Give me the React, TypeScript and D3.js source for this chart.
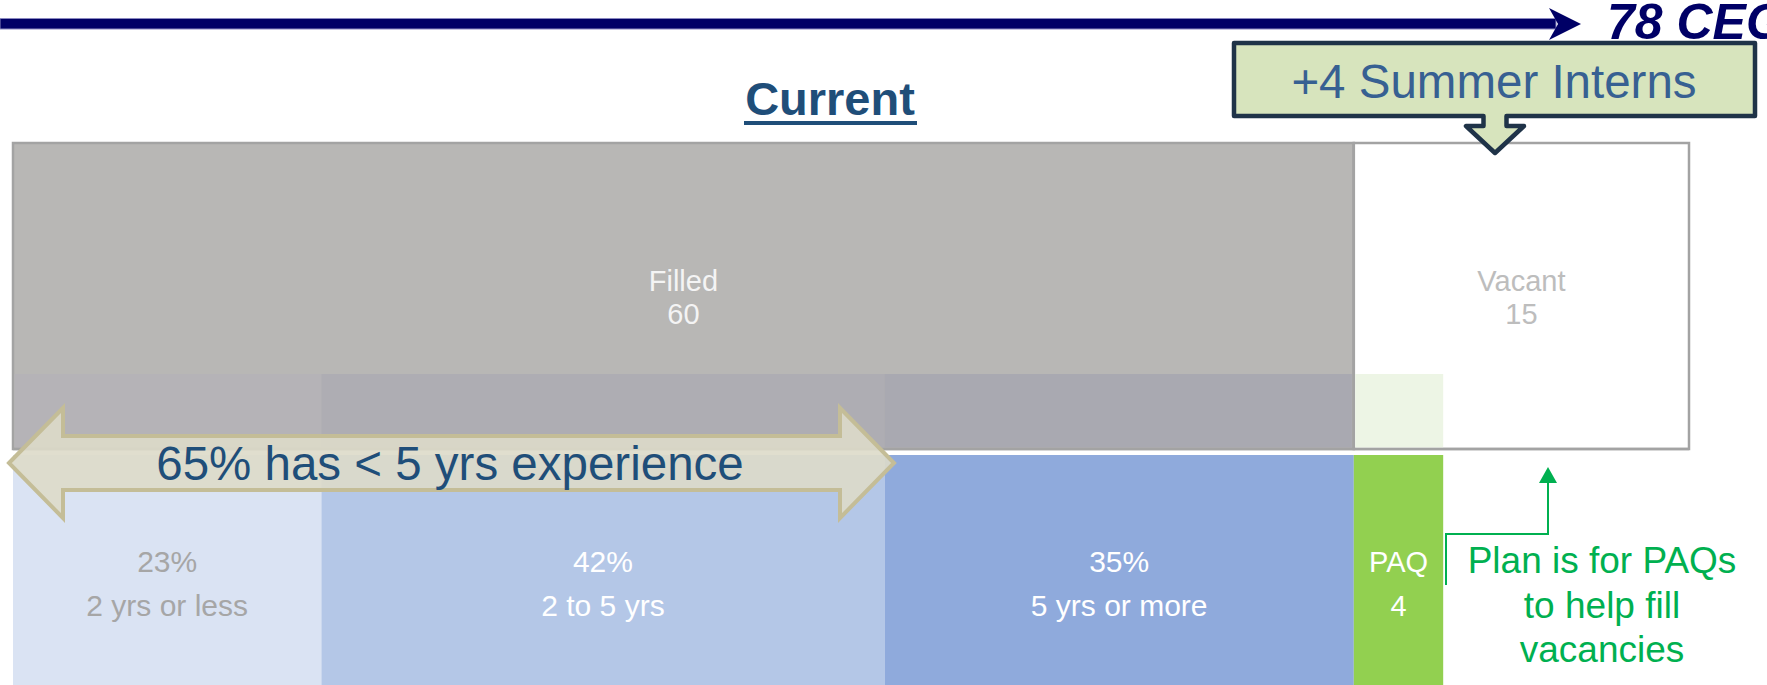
import React, { useEffect } from "react";
import * as d3 from "d3";

// ---- data ----
const positionLabels = ["Filled", "Vacant"];
const positionValues = [60, 15];
const experienceLabels = ["2 yrs or less", "2 to 5 yrs", "5 yrs or more"];
const experiencePct = [23, 42, 35];
const paqLabel = "PAQ";
const paqValue = 4;
const titleText = "Current";
const headerText = "78 CEG";
const internText = "+4 Summer Interns";
const experienceNote = "65% has < 5 yrs experience";
const planLines = ["Plan is for PAQs", "to help fill", "vacancies"];

// ---- styles ----
const W = 1767;
const H = 685;
const FONT = "'Liberation Sans', Arial, sans-serif";
const posFill = ["#b8b7b5", "#ffffff"];
const posText = ["#f4f4f4", "#bdbdbd"];
const expFill = ["#dae3f3", "#b4c7e7", "#8faadc"];
const expOverlay = ["#b5b3b7", "#aeadb3", "#a9a9b1"];
const expText = ["#a6a6a6", "#ffffff", "#ffffff"];
const paqFill = "#92d050";
const paqOverlay = "#edf5e5";

export default function App() {
  useEffect(() => {
    document.body.style.margin = "0";
    document.body.style.overflow = "hidden";
  }, []);

  const total = d3.sum(positionValues);
  const x = d3.scaleLinear().domain([0, total]).range([13, 1689]);

  const topY0 = 143;
  const topY1 = 449;
  const ovY0 = 374;
  const botY0 = 455;
  const botY1 = H + 10;

  const posStarts = [0, ...d3.cumsum(positionValues)];
  const filled = positionValues[0];
  const expUnits = experiencePct.map((p) => (p / 100) * filled);
  const expStarts = [0, ...d3.cumsum(expUnits)];
  const paqStart = filled;

  // double arrow
  const arrowPath = (() => {
    const l = 9, r = 894, cy = 463, hb = 54, hh = 55, sh = 27;
    const p = d3.path();
    p.moveTo(l, cy);
    p.lineTo(l + hb, cy - hh);
    p.lineTo(l + hb, cy - sh);
    p.lineTo(r - hb, cy - sh);
    p.lineTo(r - hb, cy - hh);
    p.lineTo(r, cy);
    p.lineTo(r - hb, cy + hh);
    p.lineTo(r - hb, cy + sh);
    p.lineTo(l + hb, cy + sh);
    p.lineTo(l + hb, cy + hh);
    p.closePath();
    return p.toString();
  })();

  // callout
  const calloutPath = (() => {
    const x0 = 1234, x1 = 1755, y0 = 43, y1 = 116;
    const cx = 1495, sw = 11.5, aw = 29, sy = 126, tip = 153;
    const p = d3.path();
    p.moveTo(x0, y0);
    p.lineTo(x1, y0);
    p.lineTo(x1, y1);
    p.lineTo(cx + sw, y1);
    p.lineTo(cx + sw, sy);
    p.lineTo(cx + aw, sy);
    p.lineTo(cx, tip);
    p.lineTo(cx - aw, sy);
    p.lineTo(cx - sw, sy);
    p.lineTo(cx - sw, y1);
    p.lineTo(x0, y1);
    p.closePath();
    return p.toString();
  })();

  const green = "#00b050";

  return (
    <svg
      width={W}
      height={H}
      viewBox={`0 0 ${W} ${H}`}
      style={{ position: "absolute", left: 0, top: 0, display: "block", background: "#fff" }}
      fontFamily={FONT}
    >
      {/* header line with arrow */}
      <rect x={0} y={18.5} width={1556} height={10.5} fill="#000066" stroke="#8a88c0" strokeWidth={1} />
      <path d="M1549,8 L1581,24 L1549,40 L1558,24 Z" fill="#000066" />
      <text x={1607} y={39} fontSize={50} fontWeight="bold" fontStyle="italic" fill="#000066">
        {headerText}
      </text>

      {/* title */}
      <text x={830} y={115} fontSize={47} fontWeight="bold" fill="#1f4e79" textAnchor="middle">
        {titleText}
      </text>
      <rect x={744} y={121} width={173} height={4} fill="#1f4e79" />

      {/* top positions bar */}
      {positionValues.map((v, i) => (
        <rect
          key={positionLabels[i]}
          x={x(posStarts[i])}
          y={topY0}
          width={x(posStarts[i] + v) - x(posStarts[i])}
          height={topY1 - topY0}
          fill={posFill[i]}
          stroke="#a3a3a3"
          strokeWidth={2.5}
        />
      ))}

      {/* overlays of the experience columns inside the top bar */}
      {expUnits.map((u, i) => (
        <rect
          key={"ov" + i}
          x={x(expStarts[i]) + (i === 0 ? 1.5 : 0)}
          y={ovY0}
          width={x(expStarts[i] + u) - x(expStarts[i]) - (i === 0 ? 1.5 : 0) - (i === 2 ? 2 : 0)}
          height={topY1 - ovY0 - 1.5}
          fill={expOverlay[i]}
        />
      ))}
      <rect
        x={x(paqStart) + 1.5}
        y={ovY0}
        width={x(paqStart + paqValue) - x(paqStart) - 1.5}
        height={topY1 - ovY0 - 1.5}
        fill={paqOverlay}
      />
      <line x1={x(filled)} x2={x(filled)} y1={topY0} y2={topY1} stroke="#a3a3a3" strokeWidth={2.5} />
      <line x1={x(0)} x2={x(total)} y1={topY1} y2={topY1} stroke="#a3a3a3" strokeWidth={2.5} />

      {/* position labels */}
      {positionValues.map((v, i) => {
        const cx = (x(posStarts[i]) + x(posStarts[i] + v)) / 2;
        return (
          <g key={"pl" + i} fill={posText[i]} fontSize={29} textAnchor="middle">
            <text x={cx} y={291}>{positionLabels[i]}</text>
            <text x={cx} y={324}>{v}</text>
          </g>
        );
      })}

      {/* experience bars */}
      {expUnits.map((u, i) => (
        <rect
          key={"eb" + i}
          x={x(expStarts[i])}
          y={botY0}
          width={x(expStarts[i] + u) - x(expStarts[i])}
          height={botY1 - botY0}
          fill={expFill[i]}
        />
      ))}
      <rect
        x={x(paqStart)}
        y={botY0}
        width={x(paqStart + paqValue) - x(paqStart)}
        height={botY1 - botY0}
        fill={paqFill}
      />

      {/* experience labels */}
      {expUnits.map((u, i) => {
        const cx = (x(expStarts[i]) + x(expStarts[i] + u)) / 2;
        return (
          <g key={"el" + i} fill={expText[i]} fontSize={30} textAnchor="middle">
            <text x={cx} y={572}>{experiencePct[i] + "%"}</text>
            <text x={cx} y={616}>{experienceLabels[i]}</text>
          </g>
        );
      })}
      <g fill="#ffffff" fontSize={29} textAnchor="middle">
        <text x={(x(paqStart) + x(paqStart + paqValue)) / 2} y={572}>{paqLabel}</text>
        <text x={(x(paqStart) + x(paqStart + paqValue)) / 2} y={616}>{paqValue}</text>
      </g>

      {/* double arrow annotation */}
      <path d={arrowPath} fill="#dddac9" fillOpacity={0.9} stroke="#c4bd97" strokeWidth={4} strokeLinejoin="miter" />
      <text x={450} y={480} fontSize={47.5} fill="#1f4e79" textAnchor="middle">
        {experienceNote}
      </text>

      {/* summer interns callout */}
      <path d={calloutPath} fill="#d7e4bd" stroke="#1f3348" strokeWidth={4.5} strokeLinejoin="round" />
      <text x={1494} y={98} fontSize={47.5} fill="#376092" textAnchor="middle">
        {internText}
      </text>

      {/* plan connector */}
      <polyline
        points="1446,585 1446,534 1548,534 1548,480"
        fill="none"
        stroke={green}
        strokeWidth={2}
      />
      <path d="M1548,467 L1557,483 L1539,483 Z" fill={green} />
      {planLines.map((t, i) => (
        <text key={t} x={1602} y={573 + i * 44.5} fontSize={37} fill={green} textAnchor="middle">
          {t}
        </text>
      ))}
    </svg>
  );
}
